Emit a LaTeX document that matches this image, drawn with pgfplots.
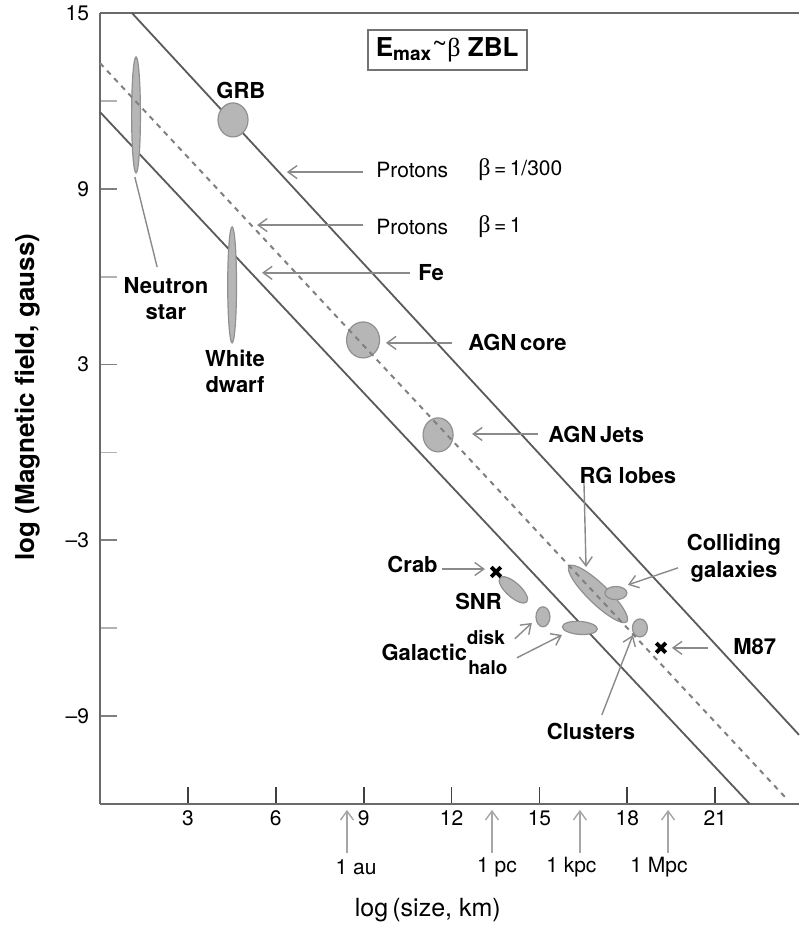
\documentclass[border=0pt]{standalone}
\usepackage{pgfplots}
\pgfplotsset{compat=1.18}
\usepackage{fontspec}
\setmainfont{TeX Gyre Heros}
\newfontfamily\serif{Liberation Serif}
\usetikzlibrary{arrows.meta}
\definecolor{efill}{HTML}{B6B6B6}
\definecolor{edraw}{HTML}{909090}
\definecolor{lgray}{HTML}{5A5A5A}
\definecolor{agray}{HTML}{8A8A8A}
\definecolor{dgray}{HTML}{808080}
\definecolor{axgray}{HTML}{6A6A6A}
\pgfplotsset{
  ell/.style n args={3}{only marks, mark=*, mark size=1pt,
    mark options={draw=edraw, fill=efill, line width=0.6pt, rotate=#1, xscale=#2, yscale=#3}},
}
\tikzset{
  arr/.style={agray, line width=0.7pt, -{Straight Barb[length=4.5pt,width=6.5pt,line width=0.7pt]}},
  lab/.style={font=\fontsize{11}{13}\selectfont\bfseries, inner sep=0pt, align=center},
  nlab/.style={font=\fontsize{10.5}{12}\selectfont, inner sep=0pt},
}
\begin{document}
\begin{tikzpicture}
\begin{axis}[
  name=ax,
  set layers,
  scale only axis,
  width=349.5pt, height=395.5pt,
  xmin=0, xmax=23.86, ymin=-12, ymax=15,
  axis lines=left,
  axis line style={-, draw=axgray, line width=1pt},
  tick align=inside,
  major tick length=8.5pt, minor tick length=8.5pt,
  xtick={3,6,9,12,15,18,21},
  ytick={-9,-3,3,9,15},
  yticklabels={–9,–3,3,9,15},
  minor ytick={-6,0,6,12},
  every major x tick/.append style={draw=black!75, line width=0.9pt},
  every major y tick/.append style={draw=black!50, line width=0.9pt},
  every minor y tick/.append style={draw=black!30, line width=0.9pt},
  ticklabel style={font=\fontsize{10.5}{12}\selectfont},
  yticklabel style={xshift=-2pt},
  /pgf/number format/assume math mode=true,
  clip=false,
]
% frame top line
\draw[axgray, line width=1pt] (rel axis cs:0,1) -- (rel axis cs:1,1);

% limit lines
\addplot[lgray, line width=0.9pt] coordinates {(1.09,15) (23.86,-9.64)};
\addplot[lgray, line width=0.9pt] coordinates {(0,11.62) (22.18,-12)};

% objects (ellipses)
\addplot[ell={0}{2.2}{29}] coordinates {(1.23,11.52)};   % neutron star
\addplot[ell={0}{7.5}{8.5}] coordinates {(4.54,11.35)};  % GRB
\addplot[ell={0}{2.2}{29}] coordinates {(4.51,5.72)};    % white dwarf
\addplot[ell={0}{8.25}{9}] coordinates {(8.98,3.84)};    % AGN core
\addplot[ell={0}{7.5}{8.5}] coordinates {(11.54,0.60)};  % AGN jets
\addplot[ell={-42}{9}{3.6}] coordinates {(14.11,-4.69)}; % SNR
\addplot[ell={0}{3.5}{5}] coordinates {(15.12,-5.61)};   % galactic disk
\addplot[ell={-4}{8.75}{3.25}] coordinates {(16.38,-5.99)}; % galactic halo
\addplot[ell={-44}{20}{5}] coordinates {(17.0,-4.83)};   % RG lobes
\addplot[ell={0}{5.5}{3.3}] coordinates {(17.61,-4.80)}; % colliding galaxies
\addplot[ell={0}{3.75}{4.5}] coordinates {(18.43,-5.99)}; % clusters

% dashed line (protons, beta = 1) over the objects it crosses
\addplot[dgray, line width=1pt, dash pattern=on 2.6pt off 2.6pt, on layer=axis foreground] coordinates {(0,13.29) (23.38,-11.76)};

% x marks (Crab, M87)
\addplot[only marks, mark=x, mark size=3.4pt, mark options={black, line width=1.9pt}] coordinates {(13.52,-4.08) (19.15,-6.67)};

% title box
\node[draw=black!55, line width=1pt, fill=white, minimum width=79.5pt, minimum height=20pt, inner sep=0pt]
  at (axis cs:11.85,13.74)
  {\fontsize{13}{14}\selectfont\bfseries E\textsubscript{\fontsize{9.5}{10}\selectfont max}{\mdseries\raisebox{0.3ex}{\textasciitilde}{\serif β}}\ ZBL};

% proton lines
\draw[arr] (axis cs:8.98,9.57) -- (axis cs:6.38,9.57);
\node[nlab, anchor=west] at (axis cs:9.42,9.64) {Protons};
\node[nlab, anchor=west] at (axis cs:12.90,9.64) {{\serif\fontsize{12}{12}\selectfont β}\,=\,1/300};
\draw[arr] (axis cs:8.98,7.76) -- (axis cs:5.36,7.76);
\node[nlab, anchor=west] at (axis cs:9.42,7.70) {Protons};
\node[nlab, anchor=west] at (axis cs:12.90,7.70) {{\serif\fontsize{12}{12}\selectfont β}\,=\,1};
\draw[arr] (axis cs:10.58,6.13) -- (axis cs:5.53,6.13);
\node[lab, anchor=west] at (axis cs:10.85,6.13) {Fe};

% labels
\node[lab] at (axis cs:4.81,12.37) {GRB};
\node[lab] at (axis cs:2.25,5.24) {Neutron\\star};
\draw[agray, line width=0.7pt] (axis cs:1.95,6.33) -- (axis cs:1.19,9.40);
\node[lab] at (axis cs:4.61,2.75) {White\\dwarf};

\draw[arr] (axis cs:12.01,3.74) -- (axis cs:9.76,3.74);
\node[lab, anchor=west] at (axis cs:12.56,3.74) {AGN\,core};
\draw[arr] (axis cs:14.95,0.63) -- (axis cs:12.70,0.63);
\node[lab, anchor=west] at (axis cs:15.29,0.63) {AGN\,Jets};

\node[lab] at (axis cs:18.02,-0.77) {RG lobes};
\draw[arr] (axis cs:16.52,-1.04) -- (axis cs:16.59,-3.91);

\node[lab, font=\fontsize{11}{13.5}\selectfont\bfseries] at (axis cs:21.64,-3.60) {Colliding\\galaxies};
\draw[arr] (axis cs:19.73,-3.94) -- (axis cs:18.02,-4.52);

\node[lab, anchor=east] at (axis cs:11.54,-3.84) {Crab};
\draw[arr] (axis cs:11.67,-3.98) -- (axis cs:13.14,-3.98);
\node[lab] at (axis cs:12.92,-5.10) {SNR};

\node[lab] at (axis cs:11.07,-6.81) {Galactic};
\node[lab, font=\fontsize{9.5}{11}\selectfont\bfseries] at (axis cs:13.17,-6.33) {disk};
\node[lab, font=\fontsize{9.5}{11}\selectfont\bfseries] at (axis cs:13.24,-7.36) {halo};
\draw[arr] (axis cs:14.16,-6.36) -- (axis cs:14.74,-5.82);
\draw[arr] (axis cs:14.23,-7.01) -- (axis cs:15.77,-6.23);

\node[lab] at (axis cs:16.76,-9.54) {Clusters};
\draw[arr] (axis cs:17.13,-8.96) -- (axis cs:18.19,-6.23);

\node[lab] at (axis cs:22.35,-6.64) {M87};
\draw[arr] (axis cs:20.75,-6.67) -- (axis cs:19.52,-6.67);

% distance markers below the axis
\draw[arr, draw=black!35] (axis cs:8.43,-13.67) -- (axis cs:8.43,-12.2);
\draw[arr, draw=black!35] (axis cs:13.38,-13.67) -- (axis cs:13.38,-12.2);
\draw[arr, draw=black!35] (axis cs:16.38,-13.67) -- (axis cs:16.38,-12.2);
\draw[arr, draw=black!35] (axis cs:19.39,-13.67) -- (axis cs:19.39,-12.2);
\node[nlab] at (axis cs:8.74,-14.15) {1 au};
\node[nlab] at (axis cs:13.55,-14.15) {1 pc};
\node[nlab] at (axis cs:16.09,-14.15) {1 kpc};
\node[nlab] at (axis cs:19.08,-14.15) {1 Mpc};

% axis titles
\node[font=\fontsize{12.5}{14}\selectfont, inner sep=0pt] at (axis cs:11.19,-15.61) {log\,(size, km)};
\node[font=\fontsize{13}{15}\selectfont\bfseries, inner sep=0pt, rotate=90] at (axis cs:-2.46,1.89) {log (Magnetic field, gauss)};
\end{axis}
\pgfresetboundingbox
\useasboundingbox ([shift={(-50pt,-61pt)}]ax.south west) rectangle ([shift={(0pt,6.5pt)}]ax.north east);
\end{tikzpicture}
\end{document}
